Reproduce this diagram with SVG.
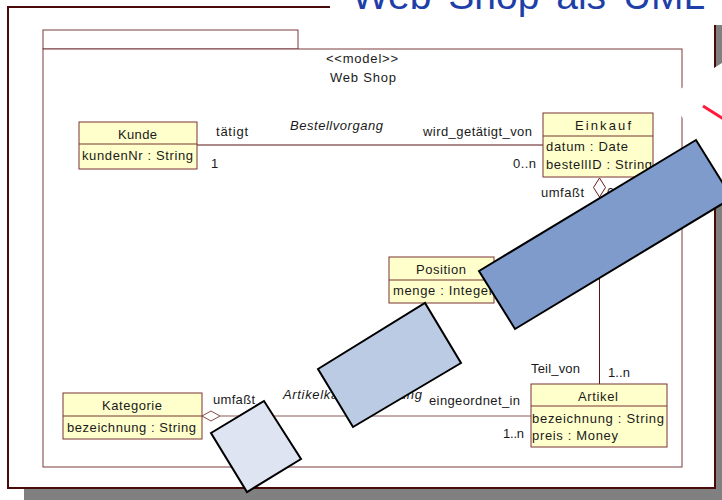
<svg xmlns="http://www.w3.org/2000/svg" width="722" height="500" viewBox="0 0 722 500">
<style>
text{font-family:"Liberation Sans",Arial,sans-serif;font-size:13px;fill:#1a1a1a}
.it{font-style:italic}
.title{font-size:39px;fill:#1f3fa8}
.cls{fill:#ffffcc;stroke:#7a3333;stroke-width:1}
.div{stroke:#7a3333;stroke-width:1}
.pkg{fill:#ffffff;stroke:#7a3a3a;stroke-width:1}
.assoc{stroke:#5a1414;stroke-width:1;fill:none}
.assoc2{stroke:#8a5a5a;stroke-width:1;fill:none}
.blue{stroke:#000;stroke-width:2}
</style>
<rect x="0" y="0" width="722" height="500" fill="#ffffff"/>
<!-- slide frame with shadow -->
<rect x="24" y="23" width="710" height="490" fill="#808080"/>
<rect x="8" y="7" width="707" height="481" fill="#ffffff" stroke="#4a0a0a" stroke-width="2"/>
<rect x="330" y="0" width="392" height="25" fill="#ffffff"/>
<text class="title" x="352" y="9" word-spacing="6">Web Shop als UML</text>

<g id="package">
<rect class="pkg" x="43" y="30" width="255" height="19"/>
<rect class="pkg" x="43" y="49" width="639" height="418"/>
<text x="326" y="63" textLength="72" lengthAdjust="spacing">&lt;&lt;model&gt;&gt;</text>
<text x="330" y="82" textLength="66" lengthAdjust="spacing">Web Shop</text>
</g>

<g id="connectors">
<line class="assoc" x1="197" y1="145" x2="543" y2="145"/>
<polygon points="599.5,178 605.5,187.5 599.5,197 593.5,187.5" fill="#ffffff" stroke="#6a1a1a" stroke-width="1"/>
<line class="assoc" x1="599.5" y1="197" x2="599.5" y2="384"/>
<polygon points="202,416 211,411 220,416 211,421" fill="#ffffff" stroke="#8a4a4a" stroke-width="1"/>
<line class="assoc2" x1="220" y1="416" x2="531" y2="416"/>
<text x="216" y="136" textLength="32" lengthAdjust="spacing">tätigt</text>
<text class="it" x="290" y="130" textLength="93" lengthAdjust="spacing">Bestellvorgang</text>
<text x="211" y="168">1</text>
<text x="423" y="136" textLength="109" lengthAdjust="spacing">wird_getätigt_von</text>
<text x="513" y="168" textLength="23" lengthAdjust="spacing">0..n</text>
<text x="541" y="197" textLength="43" lengthAdjust="spacing">umfaßt</text>
<text x="607" y="197" textLength="22" lengthAdjust="spacing">0..n</text>
<text x="531" y="373" textLength="49" lengthAdjust="spacing">Teil_von</text>
<text x="608" y="377" textLength="22" lengthAdjust="spacing">1..n</text>
<text x="213" y="404" textLength="42" lengthAdjust="spacing">umfaßt</text>
<text class="it" x="283" y="399" textLength="139" lengthAdjust="spacing">Artikelkategorisierung</text>
<text x="429" y="405" textLength="91" lengthAdjust="spacing">eingeordnet_in</text>
<text x="503" y="438" textLength="21" lengthAdjust="spacing">1..n</text>
</g>

<g id="kunde">
<rect class="cls" x="79" y="122" width="118" height="47"/>
<line class="div" x1="79" y1="144" x2="197" y2="144"/>
<text x="118" y="139" textLength="39" lengthAdjust="spacing">Kunde</text>
<text x="82" y="160" textLength="111" lengthAdjust="spacing">kundenNr : String</text>
</g>

<g id="einkauf">
<rect class="cls" x="543" y="113" width="110" height="64"/>
<line class="div" x1="543" y1="136" x2="653" y2="136"/>
<text x="575" y="130" textLength="56" lengthAdjust="spacing">Einkauf</text>
<text x="546" y="151" textLength="82" lengthAdjust="spacing">datum : Date</text>
<text x="546" y="169" textLength="106" lengthAdjust="spacing">bestellID : String</text>
</g>

<g id="position">
<rect class="cls" x="389" y="257" width="105" height="46"/>
<line class="div" x1="389" y1="280" x2="494" y2="280"/>
<text x="416" y="274" textLength="50" lengthAdjust="spacing">Position</text>
<text x="393" y="295" textLength="100" lengthAdjust="spacing">menge : Integer</text>
</g>

<g id="artikel">
<rect class="cls" x="531" y="384" width="136" height="63"/>
<line class="div" x1="531" y1="406" x2="667" y2="406"/>
<text x="578" y="401" textLength="40" lengthAdjust="spacing">Artikel</text>
<text x="532" y="423" textLength="132" lengthAdjust="spacing">bezeichnung : String</text>
<text x="532" y="440" textLength="86" lengthAdjust="spacing">preis : Money</text>
</g>

<g id="kategorie">
<rect class="cls" x="63" y="393" width="139" height="46"/>
<line class="div" x1="63" y1="416" x2="202" y2="416"/>
<text x="102" y="410" textLength="60" lengthAdjust="spacing">Kategorie</text>
<text x="67" y="432" textLength="129" lengthAdjust="spacing">bezeichnung : String</text>
</g>

<!-- overlay shapes -->
<polygon points="669,96 730,58 730,195 700,146" fill="#ffffff"/>
<line x1="703" y1="106" x2="730" y2="123" stroke="#ff1a3c" stroke-width="3"/>
<polygon class="blue" points="479,271 696,140 732,198 515,329" fill="#7f9bcc"/>
<polygon class="blue" points="318,369 425,303 461,363 353,427" fill="#bccbe4"/>
<polygon class="blue" points="211,433 264,401 301,459 247,492" fill="#dfe4f3"/>
</svg>
